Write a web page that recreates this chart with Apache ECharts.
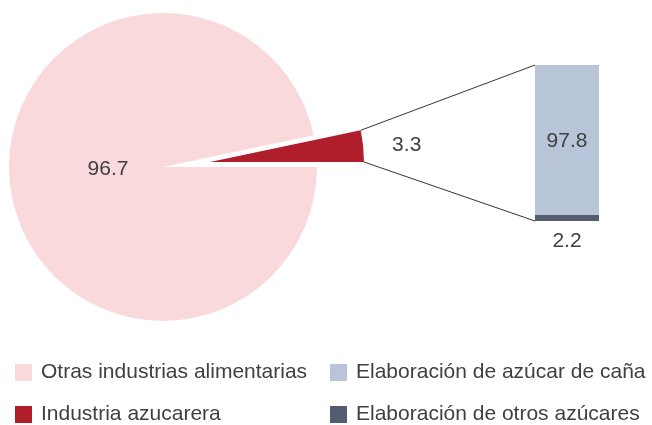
<!DOCTYPE html>
<html>
<head>
<meta charset="utf-8">
<script src="https://cdn.jsdelivr.net/npm/echarts@6/dist/echarts.min.js"></script>
<style>
  html, body { margin: 0; padding: 0; background: #fff; }
  #chart { width: 652px; height: 425px; }
</style>
</head>
<body>
<div id="chart"></div>
<script>
// datos
const pieNames = ['Otras industrias alimentarias', 'Industria azucarera'];
const pieValues = [96.7, 3.3];
const barNames = ['Elaboración de azúcar de caña', 'Elaboración de otros azúcares'];
const barValues = [97.8, 2.2];

const colPie = ['#fad9dc', '#b01e2c'];
const colBar = ['#b8c4d8', '#545d70'];
const textCol = '#404040';
const font = 'Liberation Sans, Arial, sans-serif';
const fs = 21;

const R = 154;
const bigCenter = [163, 167];
const smallCenter = [210, 162];
// el sector pequeño empieza en la horizontal y sube
const start = 360 * pieValues[1] / (pieValues[0] + pieValues[1]);
const gridLeft = 535, gridTop = 65, gridW = 64, gridH = 156;

// una leyenda por elemento, en dos columnas
function legendItem(name, left, top) {
    return {
        left: left, top: top, itemWidth: 17, itemHeight: 17, icon: 'rect',
        selectedMode: false, data: [name],
        textStyle: { fontSize: fs, color: textCol, fontFamily: font, padding: [0, 0, 0, 4] }
    };
}

const chart = echarts.init(document.getElementById('chart'));

chart.setOption({
    animation: false,
    textStyle: { fontFamily: font },
    legend: [
        legendItem(pieNames[0], 10, 357),
        legendItem(pieNames[1], 10, 399),
        legendItem(barNames[0], 325, 357),
        legendItem(barNames[1], 325, 399)
    ],
    grid: { left: gridLeft, top: gridTop, width: gridW, height: gridH },
    xAxis: { type: 'category', data: [''], show: false },
    yAxis: { type: 'value', min: 0, max: 100, show: false },
    series: [
        {
            type: 'pie', silent: true, center: bigCenter, radius: R,
            startAngle: start, clockwise: true,
            labelLine: { show: false },
            label: { position: 'center', formatter: '{c}', fontSize: fs, color: textCol, fontFamily: font },
            labelLayout: { dx: -27.5, dy: 1 },
            data: [
                { name: 'hueco', value: pieValues[1], itemStyle: { color: 'rgba(0,0,0,0)' }, label: { show: false } },
                { name: pieNames[0], value: pieValues[0], itemStyle: { color: colPie[0] } }
            ]
        },
        {
            type: 'pie', silent: true, center: smallCenter, radius: R,
            startAngle: start, clockwise: true,
            label: { position: 'outside', formatter: '{c}', fontSize: fs, color: textCol, fontFamily: font },
            labelLine: { show: false, length: 10, length2: 14 },
            data: [
                { name: pieNames[1], value: pieValues[1], itemStyle: { color: colPie[1] } },
                { name: 'resto', value: pieValues[0], itemStyle: { color: 'rgba(0,0,0,0)' }, label: { show: false } }
            ]
        },
        {
            type: 'bar', name: barNames[1], stack: 'a', barWidth: '100%', silent: true,
            barMinHeight: 6, z: 3,
            itemStyle: { color: colBar[1] },
            label: { show: true, position: 'bottom', distance: 10, fontSize: fs, color: textCol, fontFamily: font },
            data: [barValues[1]]
        },
        {
            type: 'bar', name: barNames[0], stack: 'a', barWidth: '100%', silent: true,
            itemStyle: { color: colBar[0] },
            label: { show: true, position: 'inside', fontSize: fs, color: textCol, fontFamily: font },
            data: [barValues[0]]
        }
    ]
});

// líneas de unión entre el sector y la barra
const rad = start * Math.PI / 180;
const pTop = [smallCenter[0] + R * Math.cos(rad), smallCenter[1] - R * Math.sin(rad)];
const pBot = [smallCenter[0] + R, smallCenter[1]];
const yTop = chart.convertToPixel({ yAxisIndex: 0 }, 100);
const yBot = chart.convertToPixel({ yAxisIndex: 0 }, 0);

chart.setOption({
    graphic: [
        { type: 'line', silent: true, shape: { x1: pTop[0], y1: pTop[1], x2: gridLeft, y2: yTop }, style: { stroke: '#333', lineWidth: 1 } },
        { type: 'line', silent: true, shape: { x1: pBot[0], y1: pBot[1], x2: gridLeft, y2: yBot }, style: { stroke: '#333', lineWidth: 1 } }
    ]
});
</script>
</body>
</html>
